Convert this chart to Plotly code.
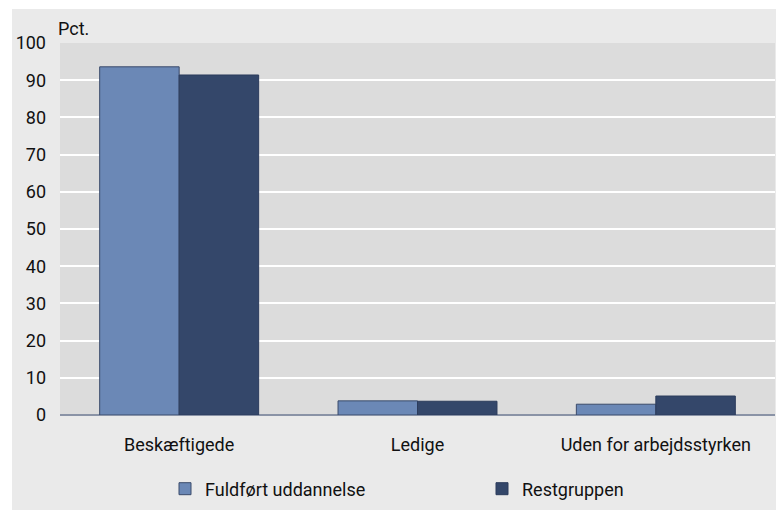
import plotly.graph_objects as go

categories = ["Beskæftigede", "Ledige", "Uden for arbejdsstyrken"]
fuldfoert = [93.6, 3.8, 2.9]
restgruppen = [91.4, 3.7, 5.1]
series_names = ["Fuldført uddannelse", "Restgruppen"]
y_ticks = [0, 10, 20, 30, 40, 50, 60, 70, 80, 90, 100]

# page has an 8px body margin; design in page coordinates
OFF = 8
W, H = 784 - OFF, 510 - OFF
PL, PR, PT, PB = 60, 775, 43, 415  # plot area in page coords
L, R, T, B = PL - OFF, (784 - PR), PT - OFF, (510 - PB)
pw, ph = PR - PL, PB - PT

def px(x):
    return (x - PL) / pw

def py(y):
    return (PB - y) / ph

fig = go.Figure()
fig.add_trace(go.Bar(
    x=categories, y=fuldfoert, name=series_names[0],
    marker=dict(color="#6b88b6", line=dict(color="#3b4b6b", width=1)),
    legend="legend",
))
fig.add_trace(go.Bar(
    x=categories, y=restgruppen, name=series_names[1],
    marker=dict(color="#34476a", line=dict(color="#2c3c5c", width=1)),
    legend="legend2",
))

font_family = "Roboto, Open Sans, sans-serif"
FS = 18

leg_common = dict(
    orientation="h", xanchor="left", y=py(489), yanchor="middle",
    font=dict(size=FS, color="#111111"), bgcolor="rgba(0,0,0,0)",
)

fig.update_layout(
    width=W, height=H,
    margin=dict(l=L, r=R, t=T, b=B, autoexpand=False),
    paper_bgcolor="white",
    plot_bgcolor="rgba(0,0,0,0)",
    barmode="group", bargap=0.333, bargroupgap=0,
    font=dict(family=font_family, size=FS, color="#111111"),
    showlegend=True,
    legend=dict(x=px(165), **leg_common),
    legend2=dict(x=px(482), **leg_common),
    xaxis=dict(
        showgrid=False, showline=False, ticks="", zeroline=False,
        tickfont=dict(size=FS), ticklabelstandoff=17,
    ),
    yaxis=dict(
        range=[0, 100], tickvals=y_ticks, showgrid=True, gridcolor="white",
        gridwidth=2, zeroline=True, zerolinecolor="#8a93a6", zerolinewidth=2,
        showline=False, ticks="", tickfont=dict(size=FS), ticklabelstandoff=13,
    ),
    shapes=[
        dict(type="rect", xref="paper", yref="paper", x0=px(12), x1=px(790),
             y0=py(515), y1=py(9), fillcolor="#eaeaea", line=dict(width=0), layer="below"),
        dict(type="rect", xref="paper", yref="paper", x0=0, x1=1, y0=0, y1=1,
             fillcolor="#dcdcdc", line=dict(width=0), layer="below"),
    ],
    annotations=[
        dict(text="Pct.", xref="paper", yref="paper", x=px(56), y=py(28),
             xanchor="left", yanchor="middle", showarrow=False,
             font=dict(size=FS, color="#111111")),
    ],
)

fig.write_html("out.html")
